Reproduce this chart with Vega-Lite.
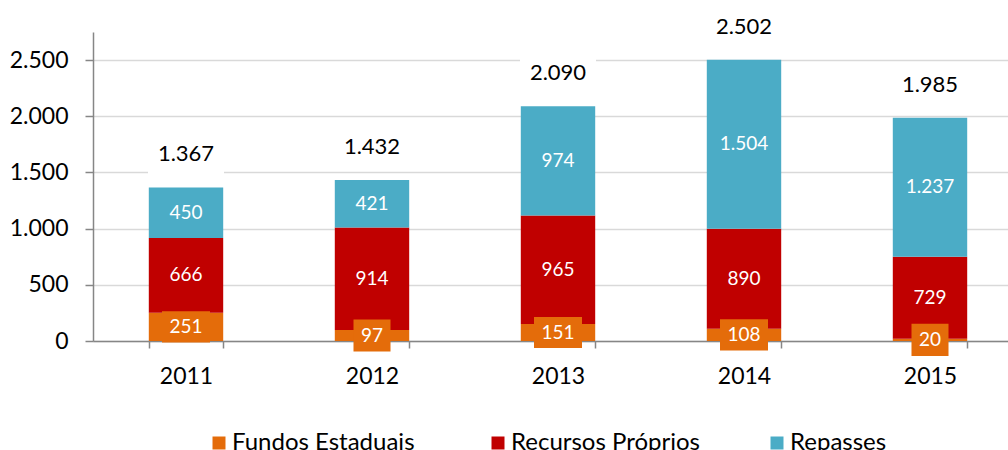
{
  "$schema": "https://vega.github.io/schema/vega-lite/v6.json",
  "autosize": {"type": "none"},
  "width": 915,
  "height": 309,
  "padding": {"left": 93, "top": 32, "right": 0, "bottom": 109},
  "background": "white",
  "config": {
    "view": {"stroke": null},
    "font": "Lato",
    "locale": {"number": {"decimal": ",", "thousands": ".", "grouping": [3], "currency": ["R$", ""]}}
  },
  "datasets": {
    "segments": [
      {"year": "2011", "series": "Fundos Estaduais", "value": 251},
      {"year": "2011", "series": "Recursos Próprios", "value": 666},
      {"year": "2011", "series": "Repasses", "value": 450},
      {"year": "2012", "series": "Fundos Estaduais", "value": 97},
      {"year": "2012", "series": "Recursos Próprios", "value": 914},
      {"year": "2012", "series": "Repasses", "value": 421},
      {"year": "2013", "series": "Fundos Estaduais", "value": 151},
      {"year": "2013", "series": "Recursos Próprios", "value": 965},
      {"year": "2013", "series": "Repasses", "value": 974},
      {"year": "2014", "series": "Fundos Estaduais", "value": 108},
      {"year": "2014", "series": "Recursos Próprios", "value": 890},
      {"year": "2014", "series": "Repasses", "value": 1504},
      {"year": "2015", "series": "Fundos Estaduais", "value": 20},
      {"year": "2015", "series": "Recursos Próprios", "value": 729},
      {"year": "2015", "series": "Repasses", "value": 1237}
    ],
    "totals": [
      {"year": "2011", "total": 1367},
      {"year": "2012", "total": 1432},
      {"year": "2013", "total": 2090},
      {"year": "2014", "total": 2502},
      {"year": "2015", "total": 1985}
    ]
  },
  "data": {"name": "segments"},
  "encoding": {
    "x": {
      "field": "year",
      "type": "ordinal",
      "scale": {"range": [0, 930], "paddingInner": 0.6, "paddingOuter": 0.3},
      "axis": {
        "title": null,
        "labelAngle": 0,
        "tickBand": "extent",
        "tickSize": 7,
        "tickColor": "#868686",
        "tickWidth": 1.5,
        "domainColor": "#868686",
        "domainWidth": 1.5,
        "labelFont": "Lato",
        "labelFontSize": 23,
        "labelColor": "#000000",
        "labelPadding": 17,
        "grid": false
      }
    }
  },
  "layer": [
    {
      "mark": {"type": "bar"},
      "encoding": {
        "y": {
          "field": "value",
          "type": "quantitative",
          "stack": "zero",
          "scale": {"domain": [0, 2750], "nice": false},
          "axis": {
            "title": null,
            "values": [0, 500, 1000, 1500, 2000, 2500],
            "format": ",d",
            "grid": true,
            "gridColor": "#d9d9d9",
            "gridWidth": 1.5,
            "domainColor": "#868686",
            "domainWidth": 1.5,
            "tickColor": "#868686",
            "tickWidth": 1.5,
            "tickSize": 8,
            "labelFont": "Lato",
            "labelFontSize": 23,
            "labelColor": "#000000",
            "labelPadding": 17
          }
        },
        "color": {
          "field": "series",
          "type": "nominal",
          "scale": {
            "domain": ["Fundos Estaduais", "Recursos Próprios", "Repasses"],
            "range": ["#E46C0A", "#C00000", "#4BACC6"]
          },
          "legend": {
            "title": null,
            "orient": "none",
            "direction": "horizontal",
            "columns": 3,
            "gridAlign": "all",
            "columnPadding": 65,
            "legendX": 114,
            "legendY": 399,
            "padding": 0,
            "symbolType": "square",
            "symbolSize": 169,
            "symbolStrokeWidth": 0,
            "symbolOpacity": 1,
            "labelFont": "Lato",
            "labelFontSize": 24,
            "labelColor": "#000000",
            "labelOffset": 1,
            "labelLimit": 400
          }
        },
        "order": {"field": "series", "sort": "ascending"}
      }
    },
    {
      "transform": [
        {"stack": "value", "groupby": ["year"], "sort": [{"field": "series", "order": "ascending"}], "as": ["y0", "y1"]},
        {"calculate": "(datum.y0 + datum.y1) / 2", "as": "mid"},
        {"filter": "datum.series != 'Fundos Estaduais'"}
      ],
      "mark": {"type": "text", "color": "white", "font": "Lato", "fontSize": 19, "align": "center", "baseline": "middle"},
      "encoding": {
        "y": {"field": "mid", "type": "quantitative", "scale": {"domain": [0, 2750], "nice": false}},
        "text": {"field": "value", "type": "quantitative", "format": ",d"}
      }
    },
    {
      "transform": [
        {"stack": "value", "groupby": ["year"], "sort": [{"field": "series", "order": "ascending"}], "as": ["y0", "y1"]},
        {"calculate": "(datum.y0 + datum.y1) / 2", "as": "mid"},
        {"filter": "datum.series == 'Fundos Estaduais'"}
      ],
      "mark": {"type": "point", "filled": true, "opacity": 1, "color": "#E46C0A", "strokeWidth": 0, "size": 2304},
      "encoding": {
        "y": {"field": "mid", "type": "quantitative", "scale": {"domain": [0, 2750], "nice": false}},
        "shape": {
          "condition": {"test": "datum.value < 100", "value": "M-0.771,-0.667H0.771V0.667H-0.771Z"},
          "value": "M-1,-0.65H1V0.65H-1Z"
        }
      }
    },
    {
      "transform": [
        {"stack": "value", "groupby": ["year"], "sort": [{"field": "series", "order": "ascending"}], "as": ["y0", "y1"]},
        {"calculate": "(datum.y0 + datum.y1) / 2", "as": "mid"},
        {"filter": "datum.series == 'Fundos Estaduais'"}
      ],
      "mark": {"type": "text", "color": "white", "font": "Lato", "fontSize": 19, "align": "center", "baseline": "middle"},
      "encoding": {
        "y": {"field": "mid", "type": "quantitative", "scale": {"domain": [0, 2750], "nice": false}},
        "text": {"field": "value", "type": "quantitative", "format": ",d"}
      }
    },
    {
      "data": {"name": "totals"},
      "mark": {"type": "point", "filled": true, "opacity": 1, "color": "white", "strokeWidth": 0, "size": 5776, "yOffset": -33, "shape": "M-1,-0.553H1V0.553H-1Z"},
      "encoding": {
        "y": {"field": "total", "type": "quantitative", "scale": {"domain": [0, 2750], "nice": false}}
      }
    },
    {
      "data": {"name": "totals"},
      "mark": {"type": "text", "color": "black", "font": "Lato", "fontSize": 22, "align": "center", "baseline": "middle", "yOffset": -33},
      "encoding": {
        "y": {"field": "total", "type": "quantitative", "scale": {"domain": [0, 2750], "nice": false}},
        "text": {"field": "total", "type": "quantitative", "format": ",d"}
      }
    }
  ]
}
